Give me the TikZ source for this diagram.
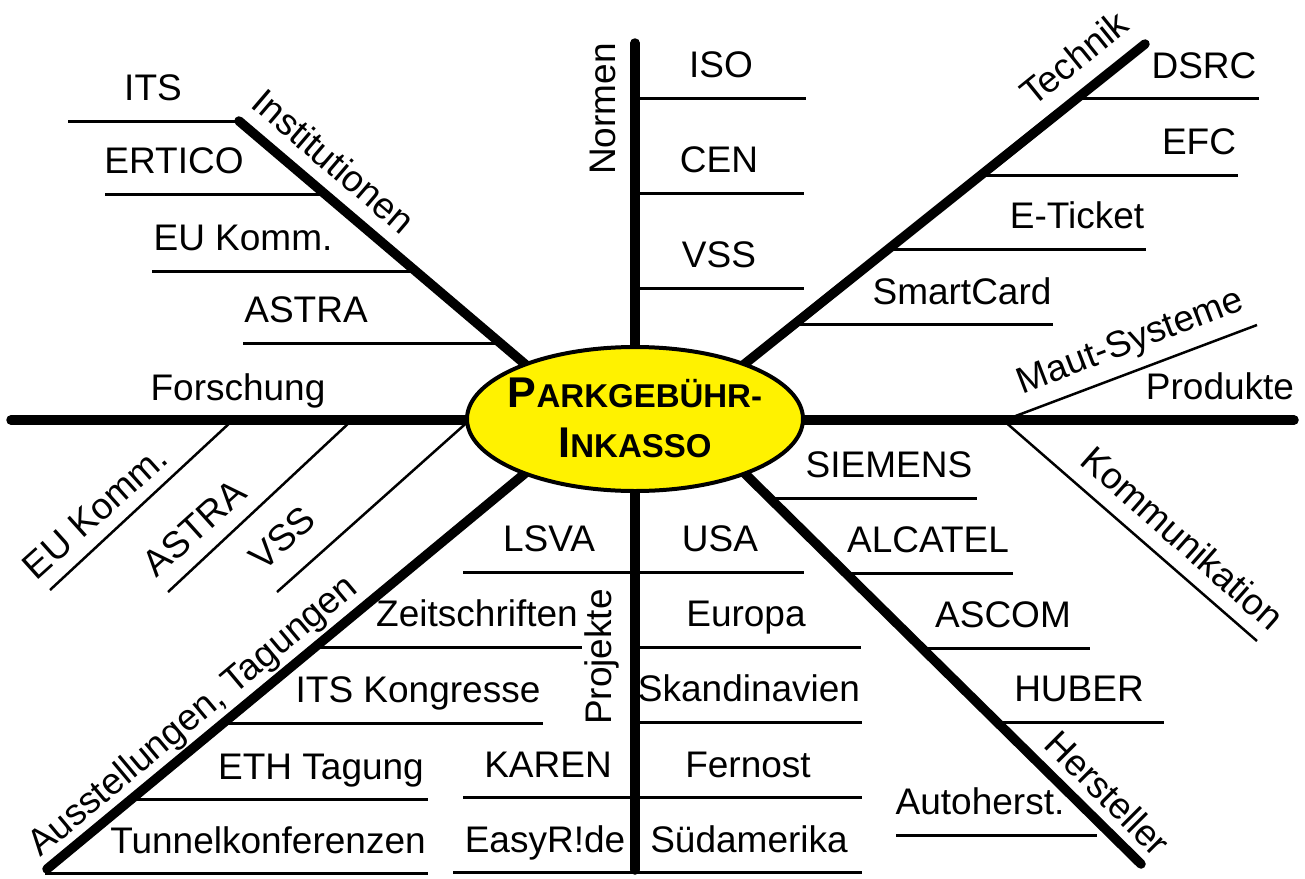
\documentclass[tikz,border=0pt]{standalone}
\usepackage{fontspec}
\setmainfont{Liberation Sans}
\usetikzlibrary{shapes.geometric,backgrounds}
\begin{document}
\begin{tikzpicture}[x=1pt,y=-1pt,
  spine/.style={line width=9.5pt, line cap=round},
  twig/.style={line width=3pt},
  thinline/.style={line width=2.5pt},
  lab/.style={font=\fontsize{37}{44}\selectfont, inner sep=0pt, anchor=base},
  rlab/.style={font=\fontsize{37}{44}\selectfont, inner sep=0pt},
  hub/.style={ellipse, draw, line width=4pt, fill=yellow, minimum width=336pt,
    minimum height=144pt, inner sep=0pt},
  hubtext/.style={inner sep=0pt, align=center,
    font=\bfseries\fontsize{43}{50}\selectfont}]

\useasboundingbox (0,0) rectangle (1305,878);

\node[hub] (c) at (635,419) {};
\node[hubtext] (ct) at (635,418)
  {P{\fontsize{33}{50}\selectfont ARKGEB\"UHR-}\\I{\fontsize{33}{50}\selectfont NKASSO}};

% spine end points
\coordinate (nTop) at (635,43);   \coordinate (nIn) at (635,400);
\coordinate (pBot) at (635,870);  \coordinate (pIn) at (635,440);
\coordinate (fL) at (11,420);     \coordinate (fIn) at (520,420);
\coordinate (prR) at (1294,420);  \coordinate (prIn) at (750,420);
\coordinate (iOut) at (239,121);  \coordinate (iIn) at (539,376);
\coordinate (tOut) at (1145,44);  \coordinate (tIn) at (727,378);
\coordinate (aOut) at (47,869);   \coordinate (aIn) at (546,456);
\coordinate (hOut) at (1141,864); \coordinate (hIn) at (727,456);
\coordinate (vssIn) at (472,418); \coordinate (vssOut) at (277,592);

\begin{scope}[on background layer]
  \draw[spine] (nTop) -- (nIn);
  \draw[spine] (pBot) -- (pIn);
  \draw[spine] (fL) -- (fIn);
  \draw[spine] (prR) -- (prIn);
  \draw[spine] (iOut) -- (iIn);
  \draw[spine] (tOut) -- (tIn);
  \draw[spine] (aOut) -- (aIn);
  \draw[spine] (hOut) -- (hIn);
  \draw[thinline] (vssIn) -- (vssOut);
\end{scope}

% Institutionen
\draw[twig] (68,121) -- (iOut);
\draw[twig] (105,194) -- (324,194);
\draw[twig] (152,271) -- (414,271);
\draw[twig] (243,343) -- (500,343);
\node[lab] (its) at (153,100) {ITS};
\node[lab] (ertico) at (174,173) {ERTICO};
\node[lab] (eukomm) at (243,250) {EU Komm.};
\node[lab] (astra) at (306,322) {ASTRA};
\node[rlab, rotate=-40.5] (inst) at (334,161) {Institutionen};

% Forschung
\node[lab] (forsch) at (238,400) {Forschung};
\draw[thinline] (233,420) -- (50,590);
\draw[thinline] (352,420) -- (168,592);
\node[rlab, rotate=42] (eukomm2) at (95,512) {EU Komm.};
\node[rlab, rotate=42] (astra2) at (194,528) {ASTRA};
\node[rlab, rotate=42] (vss2) at (282,538) {VSS};

% Normen
\draw[twig] (635,98) -- (806,98);
\draw[twig] (635,193) -- (804,193);
\draw[twig] (635,288) -- (804,288);
\node[lab] (iso) at (721,77) {ISO};
\node[lab] (cen) at (719,172) {CEN};
\node[lab] (vss) at (719,267) {VSS};
\node[lab, rotate=90] (normen) at (615,109) {Normen};

% Technik
\draw[twig] (1079,98) -- (1259,98);
\draw[twig] (984,175) -- (1238,175);
\draw[twig] (890,249) -- (1146,249);
\draw[twig] (797,324) -- (1053,324);
\node[lab] (dsrc) at (1204,78) {DSRC};
\node[lab] (efc) at (1199,154) {EFC};
\node[lab] (eticket) at (1077,228) {E-Ticket};
\node[lab] (smart) at (962,304) {SmartCard};
\node[rlab, rotate=39] (technik) at (1074,58) {Technik};

% Produkte
\draw[thinline] (1005,420) -- (1257,325);
\draw[thinline] (1003,420) -- (1257,641);
\node[lab] (produkte) at (1220,399) {Produkte};
\node[rlab, rotate=21] (maut) at (1131,343) {Maut-Systeme};
\node[rlab, rotate=-41.5] (komm) at (1183,538) {Kommunikation};

% Hersteller
\draw[twig] (772,498) -- (977,498);
\draw[twig] (848,573) -- (1013,573);
\draw[twig] (924,648) -- (1090,648);
\draw[twig] (1001,722) -- (1164,722);
\draw[twig] (896,835) -- (1097,835);
\node[lab] (siemens) at (889,477) {SIEMENS};
\node[lab] (alcatel) at (928,552) {ALCATEL};
\node[lab] (ascom) at (1003,627) {ASCOM};
\node[lab] (huber) at (1079,701) {HUBER};
\node[lab] (autoh) at (980,814) {Autoherst.};
\node[rlab, rotate=-45] (herst) at (1108,793) {Hersteller};

% Projekte
\draw[twig] (463,572) -- (635,572);
\draw[twig] (463,797) -- (635,797);
\draw[twig] (453,872) -- (635,872);
\draw[twig] (635,572) -- (804,572);
\draw[twig] (635,647) -- (861,647);
\draw[twig] (635,722) -- (862,722);
\draw[twig] (635,797) -- (862,797);
\draw[twig] (635,872) -- (862,872);
\node[lab] (lsva) at (549,551) {LSVA};
\node[lab] (karen) at (548,777) {KAREN};
\node[lab] (easy) at (545,852) {EasyR!de};
\node[lab] (usa) at (720,551) {USA};
\node[lab] (europa) at (746,626) {Europa};
\node[lab] (skand) at (749,701) {Skandinavien};
\node[lab] (fernost) at (748,777) {Fernost};
\node[lab] (suedam) at (749,852) {S\"udamerika};
\node[lab, rotate=90] (projekte) at (611,657) {Projekte};

% Ausstellungen, Tagungen
\draw[twig] (315,647) -- (582,647);
\draw[twig] (223,723) -- (543,723);
\draw[twig] (131,799) -- (428,799);
\draw[twig] (45,873) -- (428,873);
\node[lab] (zeit) at (477,626) {Zeitschriften};
\node[lab] (itsk) at (418,702) {ITS Kongresse};
\node[lab] (eth) at (321,779) {ETH Tagung};
\node[lab] (tunnel) at (268,853) {Tunnelkonferenzen};
\node[rlab, rotate=40] (ausst) at (194,717) {Ausstellungen, Tagungen};
\end{tikzpicture}
\end{document}
